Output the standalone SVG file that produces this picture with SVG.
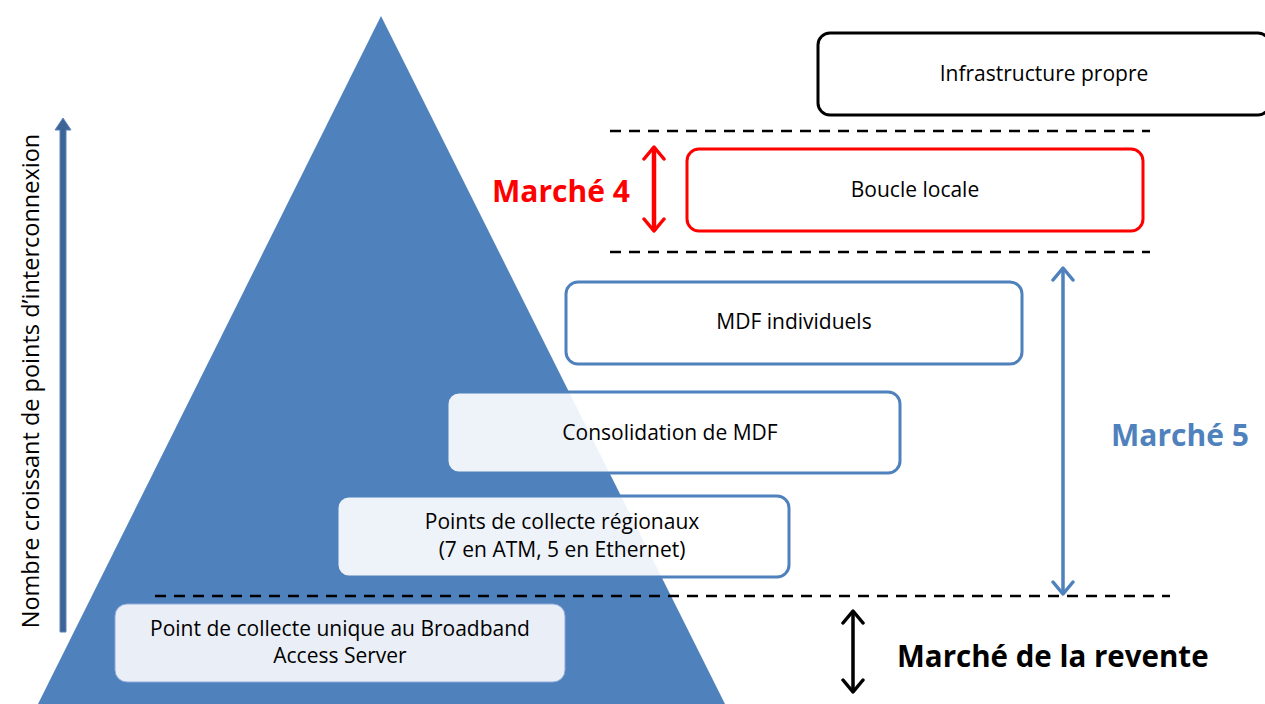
<svg xmlns="http://www.w3.org/2000/svg" width="1265" height="704" viewBox="0 0 1265 704">
<defs>
<style>
.t{font-family:"Open Sans","Liberation Sans",sans-serif;font-size:21px;fill:#000;text-anchor:middle}
.m{font-family:"Open Sans","Liberation Sans",sans-serif;font-weight:bold;font-size:30px;text-anchor:start}
.dash{stroke:#000;stroke-width:2.5;stroke-dasharray:11,8;fill:none}
.bx{fill:#fff;fill-opacity:0.9;stroke:#4F81BD;stroke-width:3}
</style>
<marker id="ar" viewBox="0 0 24 24" refX="15" refY="12" markerWidth="24" markerHeight="24" orient="auto-start-reverse" markerUnits="userSpaceOnUse">
<path d="M3,2 L15,12 L3,22" fill="none" stroke="context-stroke" stroke-width="3.5" stroke-linecap="round" stroke-linejoin="round"/>
</marker>
</defs>
<rect width="1265" height="704" fill="#fff"/>
<polygon points="381,16 38,704 725,704" fill="#4F81BD"/>
<g id="axis">
<path d="M60,632 L60,130 L55,130 L63,118 L71,130 L66,130 L66,632 Z" fill="#3E6496" stroke="#5B84BE" stroke-width="1"/>
<text transform="translate(39,381) rotate(-90)" class="t" style="font-size:23.5px">Nombre croissant de points d’interconnexion</text>
</g>
<g id="connectors">
<line class="dash" x1="610" y1="131" x2="1150" y2="131"/>
<line class="dash" x1="610" y1="252" x2="1150" y2="252"/>
<line class="dash" x1="155" y1="596" x2="1170" y2="596"/>
<line x1="654" y1="147" x2="654" y2="231" stroke="#FF0000" stroke-width="4.5" marker-start="url(#ar)" marker-end="url(#ar)"/>
<line x1="1063" y1="268" x2="1063" y2="594" stroke="#4F81BD" stroke-width="3.5" marker-start="url(#ar)" marker-end="url(#ar)"/>
<line x1="853" y1="611" x2="853" y2="692" stroke="#000" stroke-width="3.5" marker-start="url(#ar)" marker-end="url(#ar)"/>
</g>
<g id="n-infra">
<rect x="818" y="33" width="452" height="82" rx="12" fill="#fff" stroke="#000" stroke-width="3"/>
<text class="t" x="1044" y="81">Infrastructure propre</text>
</g>
<g id="n-boucle">
<rect x="687" y="149" width="456" height="82" rx="12" fill="#fff" stroke="#FF0000" stroke-width="3"/>
<text class="t" x="915" y="197">Boucle locale</text>
</g>
<g id="n-mdf">
<rect x="566" y="282" width="456" height="82" rx="12" class="bx"/>
<text class="t" x="794" y="329">MDF individuels</text>
</g>
<g id="n-conso">
<rect x="447" y="392" width="453" height="81" rx="12" class="bx"/>
<text class="t" x="670" y="440">Consolidation de MDF</text>
</g>
<g id="n-regio">
<rect x="337" y="496" width="452" height="81" rx="12" class="bx"/>
<text class="t" x="562" y="529">Points de collecte régionaux</text>
<text class="t" x="562" y="557">(7 en ATM, 5 en Ethernet)</text>
</g>
<g id="n-unique">
<rect x="115" y="604" width="450" height="78" rx="12" fill="#EAEFF7" stroke="#8EAADB" stroke-width="1"/>
<text class="t" x="340" y="636">Point de collecte unique au Broadband</text>
<text class="t" x="340" y="663">Access Server</text>
</g>
<g id="labels">
<text class="m" x="492" y="202" fill="#FF0000">Marché 4</text>
<text class="m" x="1111" y="446" fill="#4F81BD">Marché 5</text>
<text class="m" x="897" y="667" fill="#000" style="font-size:29.5px">Marché de la revente</text>
</g>
</svg>
